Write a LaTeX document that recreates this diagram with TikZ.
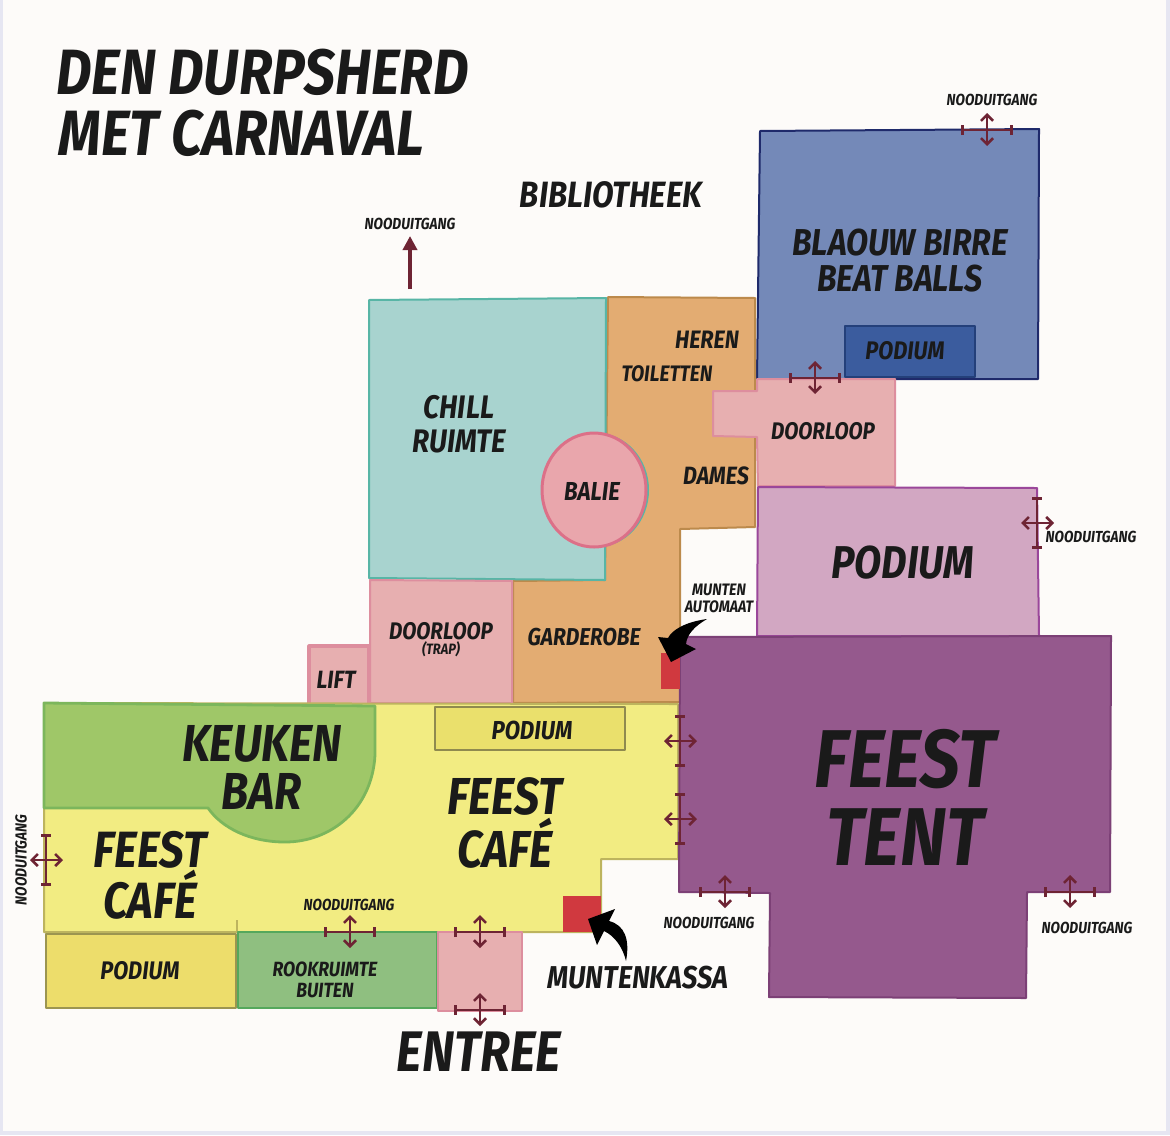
\documentclass[tikz,border=0pt]{standalone}
\usepackage{fontspec}
\usepackage{xcolor}
\usetikzlibrary{arrows.meta}
\newfontfamily\brushfont{Fira Sans}[FakeStretch=0.86]
\definecolor{paper}{HTML}{FDFBF9}
\definecolor{paperedge}{HTML}{E6E6F2}
\definecolor{inkblack}{HTML}{1A1A1A}
\definecolor{exitred}{HTML}{6E2434}
\definecolor{pinkroom}{HTML}{E7AFB0}
\definecolor{pinkline}{HTML}{DD8E9E}
\definecolor{coinred}{HTML}{D0393F}
\definecolor{blueroom}{HTML}{7489B8}
\definecolor{blueline}{HTML}{1F2A6B}
\definecolor{orangeroom}{HTML}{E3AC72}
\definecolor{orangeline}{HTML}{BC8A4C}
\definecolor{tealroom}{HTML}{A8D3CF}
\definecolor{tealline}{HTML}{58B5A6}
\definecolor{mauveroom}{HTML}{D2A7C2}
\definecolor{mauveline}{HTML}{9A479A}
\definecolor{yellowroom}{HTML}{F2EC82}
\definecolor{yellowline}{HTML}{BDB45E}
\definecolor{kitchen}{HTML}{9FC768}
\definecolor{kitchenline}{HTML}{7CB65C}
\definecolor{stageyellow}{HTML}{EAE06C}
\definecolor{stageline}{HTML}{8F8A4F}
\definecolor{stageleft}{HTML}{EDDD6B}
\definecolor{stageleftline}{HTML}{9C9550}
\definecolor{smokeroom}{HTML}{8FBF80}
\definecolor{smokeline}{HTML}{55A85C}
\definecolor{tentroom}{HTML}{95598D}
\definecolor{tentline}{HTML}{7C4076}
\definecolor{stageblue}{HTML}{3B5C9E}
\definecolor{stageblueline}{HTML}{24407A}
\definecolor{balieroom}{HTML}{E9A6AC}
\definecolor{balieline}{HTML}{DC7088}
\tikzset{
    room/.style n args={2}{fill=#1, draw=#2, line width=1pt, line join=round},
    lbl/.style n args={2}{font=\brushfont\bfseries\itshape\fontsize{#1}{#2}\selectfont,
        text=inkblack, align=center, inner sep=0pt},
    exitlbl/.style={lbl={8}{9}},
    exitbar/.style={draw=exitred, line width=1.3pt, {Bar[width=5pt]}-{Bar[width=5pt]}},
    exitarrow/.style={draw=exitred, line width=1.3pt, {Straight Barb[length=3pt,width=6pt]}-{Straight Barb[length=3pt,width=6pt]}},
    exith/.pic={
        \draw[exitbar] (-26,0) -- (26,0);
        \draw[exitarrow] (0,-17) -- (0,16);
    },
    exitv/.pic={
        \draw[exitbar] (0,-26) -- (0,26);
        \draw[exitarrow] (-16,0) -- (17,0);
    }
}
\begin{document}
\begin{tikzpicture}[x=0.5pt, y=-0.5pt]
    \useasboundingbox (0,0) rectangle (1170,1135);
    \fill[paperedge] (0,0) rectangle (1170,1135);
    \fill[paper] (3,0) rectangle (1166,1131);

    % rooms, back to front
    \draw[room={blueroom}{blueline}] (760,131) -- (1039,129) -- (1038,379) -- (757,379) -- cycle;
    \draw[room={orangeroom}{orangeline}] (608,297) -- (755,298) -- (755,527) -- (680,529) -- (680,702) -- (513,703) -- (513,581) -- (605,580) -- cycle;
    \draw[room={tealroom}{tealline}] (369,300) -- (606,298) -- (605,580) -- (369,578) -- cycle;
    \draw[room={pinkroom}{pinkline}] (757,379) -- (895,379) -- (895,486) -- (758,486) -- (757,437) -- (713,436) -- (713,391) -- (757,391) -- cycle;
    \draw[room={mauveroom}{mauveline}] (758,487) -- (1037,488) -- (1039,636) -- (757,636) -- cycle;
    \draw[room={pinkroom}{pinkline}] (370,580) -- (512,581) -- (512,703) -- (370,703) -- cycle;
    \draw[room={pinkroom}{pinkline}, line width=1.6pt] (309,646) -- (369,646) -- (369,705) -- (309,705) -- cycle;
    \draw[room={yellowroom}{yellowline}] (44,703) -- (678,704) -- (678,859) -- (601,859) -- (601,932) -- (44,932) -- cycle;
    \draw[room={yellowroom}{yellowline}] (237,920) -- (237,932);
    \draw[room={kitchen}{kitchenline}, line width=1.4pt] (44,703) -- (375,706) -- (375,755) .. controls (372,810) and (330,842) .. (285,842) .. controls (250,842) and (222,828) .. (208,808) -- (44,808) -- cycle;
    \draw[room={stageyellow}{stageline}] (435,707) -- (625,707) -- (625,750) -- (435,750) -- cycle;
    \draw[room={stageleft}{stageleftline}] (46,934) -- (236,934) -- (236,1008) -- (46,1008) -- cycle;
    \draw[room={smokeroom}{smokeline}] (238,932) -- (437,932) -- (437,1008) -- (238,1008) -- cycle;
    \draw[room={pinkroom}{pinkline}] (438,932) -- (522,932) -- (522,1011) -- (438,1011) -- cycle;
    \draw[room={tentroom}{tentline}] (680,637) -- (1111,636) -- (1110,892) -- (1027,892) -- (1026,998) -- (769,997) -- (770,893) -- (679,892) -- cycle;
    \draw[room={stageblue}{stageblueline}] (845,326) -- (975,326) -- (975,377) -- (845,377) -- cycle;

    % balie
    \fill[tealline] (597,490) ellipse [x radius=52, y radius=57];
    \draw[room={balieroom}{balieline}, line width=1.5pt] (594,490) ellipse [x radius=52, y radius=57];

    % munten
    \fill[coinred] (661,653) rectangle (680,689);
    \fill[coinred] (563,896) rectangle (601,932);
    \fill[black] (707,619) .. controls (685,622) and (672,630) .. (668,638) -- (658,637) -- (671,662) -- (696,649) -- (686,644) .. controls (687,634) and (695,626) .. (707,619) -- cycle;
    \fill[black] (615,909) -- (588,919) -- (597,945) -- (604,931) .. controls (615,936) and (623,948) .. (626,961) .. controls (630,940) and (625,925) .. (609,921) -- cycle;

    % exits
    \draw[draw=exitred, line width=2pt, -{Triangle[length=7pt,width=7pt]}] (410,289) -- (410,236);
    \pic at (987,130) {exith};
    \pic at (815,378) {exith};
    \pic at (350,932) {exith};
    \pic at (480,932) {exith};
    \pic at (480,1010) {exith};
    \pic at (725,892) {exith};
    \pic at (1070,892) {exith};
    \pic at (1037,523) {exitv};
    \pic at (680,741) {exitv};
    \pic at (680,819) {exitv};
    \pic at (46,860) {exitv};

    % labels
    \node[lbl={32}{31}, anchor=west] (title1) at (56,72) {DEN DURPSHERD};
    \node[lbl={32}{31}, anchor=west] (title2) at (58,133) {MET CARNAVAL};
    \node[lbl={18.3}{19}] (bibliotheek) at (611,195) {BIBLIOTHEEK};
    \node[lbl={18.7}{18}] (blauw) at (900,261) {BLAOUW BIRRE\\BEAT BALLS};
    \node[lbl={12.7}{13}] (podiumblue) at (905,351) {PODIUM};
    \node[lbl={12.6}{13}] (heren) at (707,340) {HEREN};
    \node[lbl={11.2}{12}] (toiletten) at (667,374) {TOILETTEN};
    \node[lbl={12}{13}] (doorloopb) at (823,431) {DOORLOOP};
    \node[lbl={12.5}{13}] (dames) at (716,476) {DAMES};
    \node[lbl={16.3}{17}] (chill) at (459,424) {CHILL\\RUIMTE};
    \node[lbl={13}{13}] (balie) at (592,491) {BALIE};
    \node[lbl={23}{23}] (podiumbig) at (903,563) {PODIUM};
    \node[lbl={8.3}{8.5}] (automaat) at (719,598) {MUNTEN\\AUTOMAAT};
    \node[lbl={12.2}{13}] (garderobe) at (584,637) {GARDEROBE};
    \node[lbl={12}{13}] (doorloopt) at (441,631) {DOORLOOP};
    \node[lbl={7.5}{8}] (trap) at (441,649) {(TRAP)};
    \node[lbl={12.5}{13}] (lift) at (336,680) {LIFT};
    \node[lbl={26}{24}] (keuken) at (262,767) {KEUKEN\\BAR};
    \node[lbl={13}{13}] (podiumcafe) at (532,730) {PODIUM};
    \node[lbl={26}{23}] (cafeb) at (505,823) {FEEST\\CAFÉ};
    \node[lbl={41}{39}] (tent) at (905,797) {FEEST\\TENT};
    \node[lbl={25.5}{22}] (cafea) at (150,875) {FEEST\\CAFÉ};
    \node[lbl={12.7}{13}] (podiumleft) at (140,971) {PODIUM};
    \node[lbl={10.3}{10.5}] (rook) at (325,980) {ROOKRUIMTE\\BUITEN};
    \node[lbl={28.6}{29}] (entree) at (479,1052) {ENTREE};
    \node[lbl={15.8}{16}] (kassa) at (638,978) {MUNTENKASSA};

    \node[exitlbl] (exit1) at (992,100) {NOODUITGANG};
    \node[exitlbl] (exit2) at (410,224) {NOODUITGANG};
    \node[exitlbl] (exit3) at (1091,537) {NOODUITGANG};
    \node[exitlbl, rotate=90] (exit4) at (21,860) {NOODUITGANG};
    \node[exitlbl] (exit5) at (349,905) {NOODUITGANG};
    \node[exitlbl] (exit6) at (709,923) {NOODUITGANG};
    \node[exitlbl] (exit7) at (1087,928) {NOODUITGANG};
\end{tikzpicture}
\end{document}
